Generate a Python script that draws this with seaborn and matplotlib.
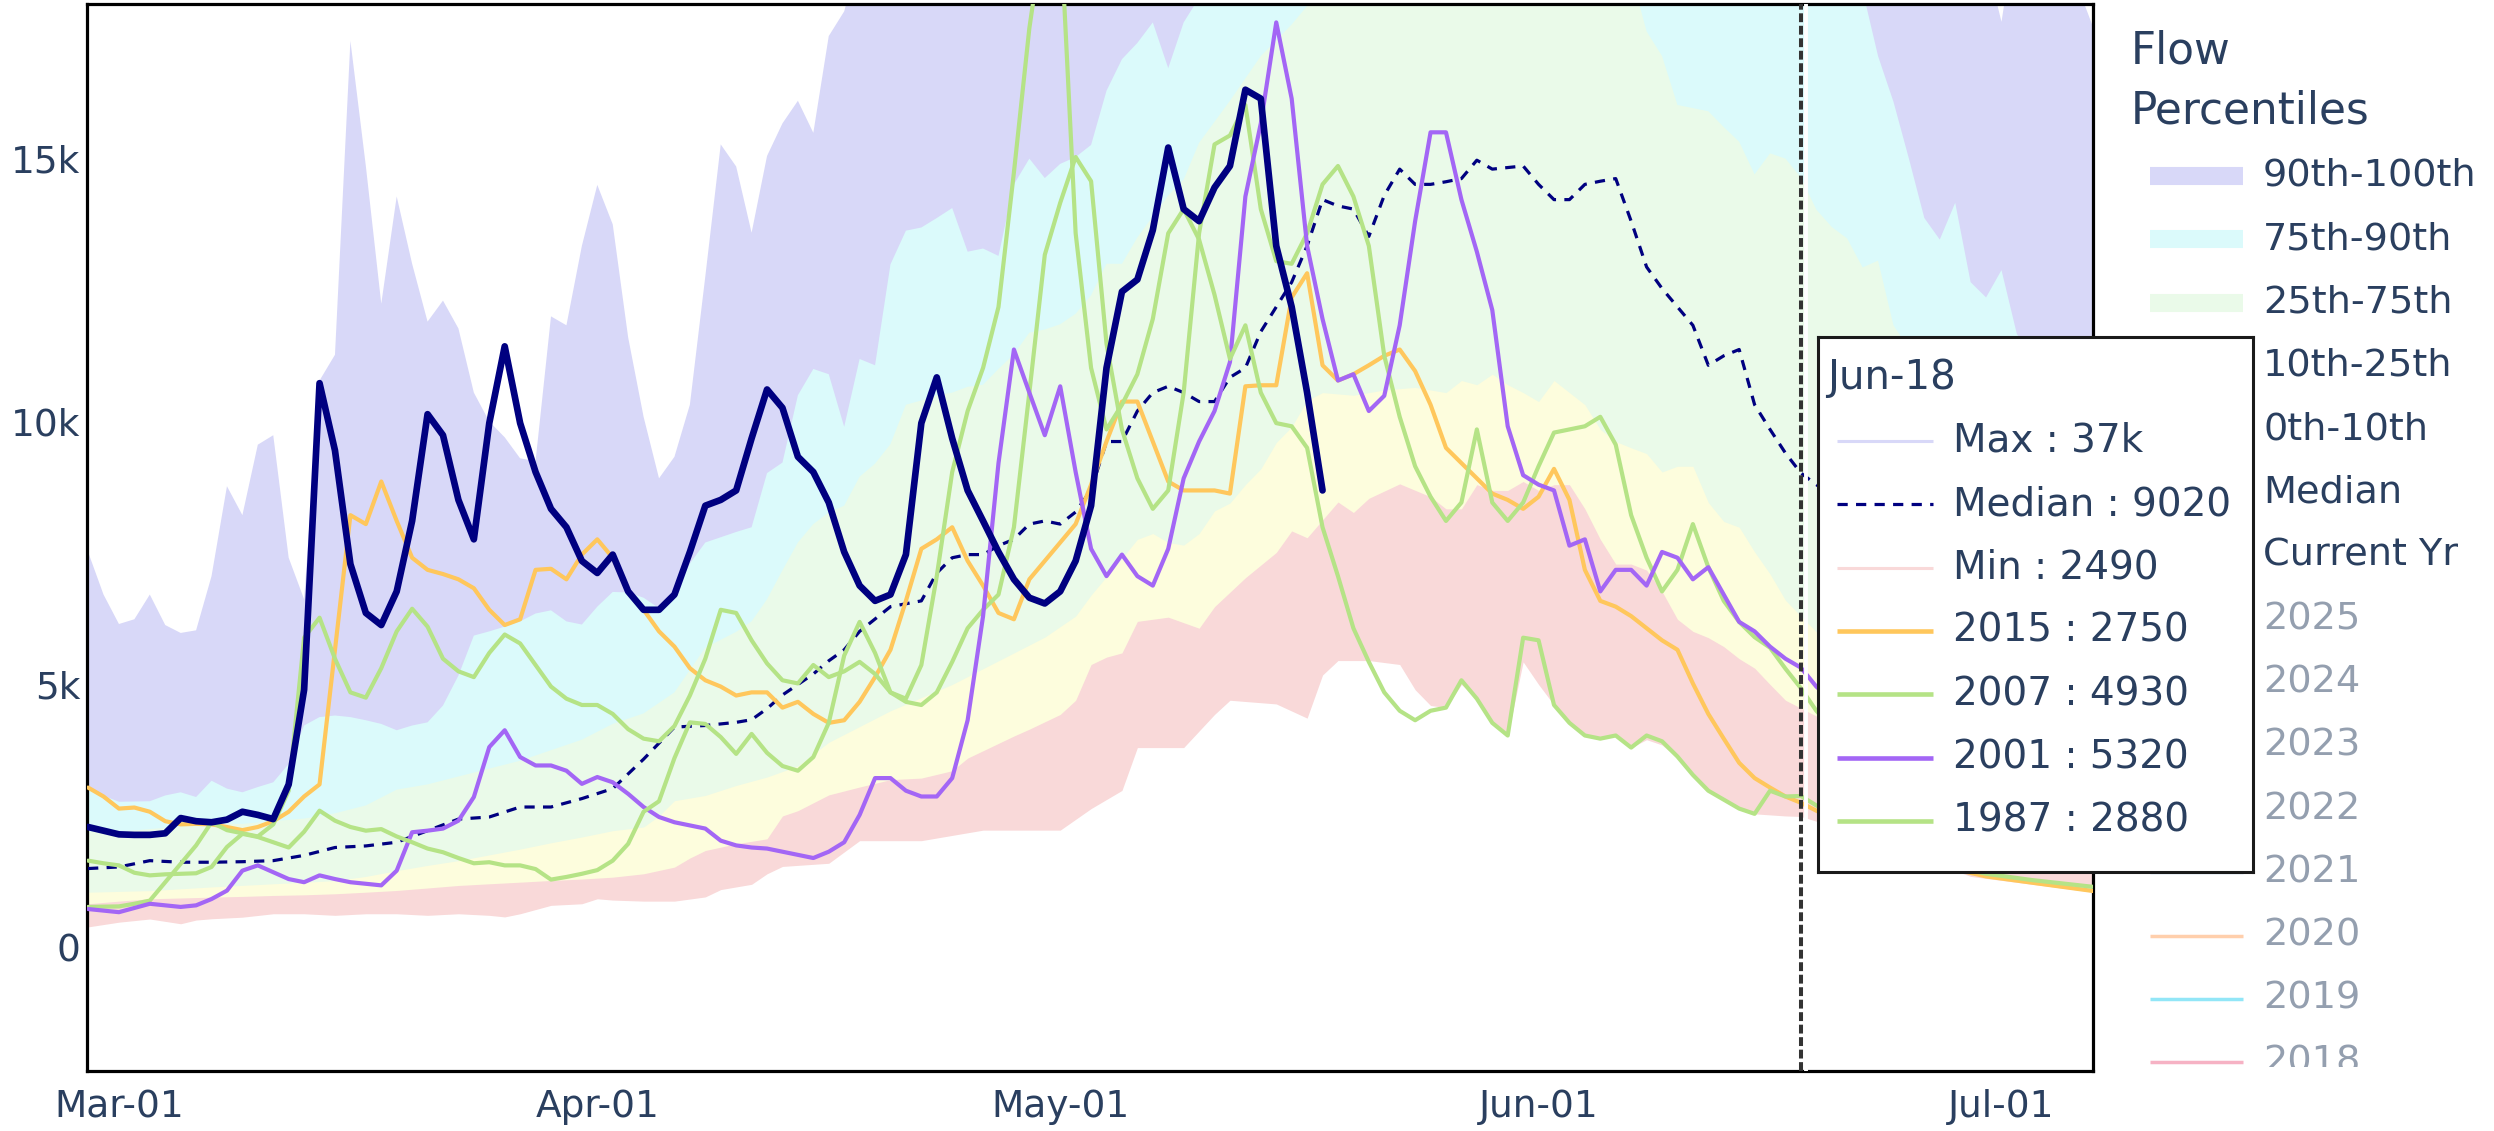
import pandas as pd
import matplotlib
matplotlib.use("Agg")
import matplotlib.pyplot as plt
import seaborn as sns

# days are counted from Mar-01 (= day 0); flows

# percentile envelope
max_days = list(range(-2, 48)) + [50, 60, 75, 90, 109, 116, 120, 122, 123, 126, 128]
max_flow = [7520, 6710, 6150, 6240, 6710, 6130, 5980, 6030, 7060, 8770,
            8220, 9560, 9740, 7410, 6620, 10780, 11270, 17240, 14860, 12240,
            14280, 13000, 11900, 12300, 11770, 10550, 10000, 9700, 9300, 9250,
            12000, 11830, 13340, 14500, 13750, 11600, 10090, 8920, 9330, 10320,
            12760, 15270, 14850, 13590, 15050, 15670, 16100, 15490, 17330, 17800,
            21000, 27000, 33000, 36000, 37000, 26000, 20000, 17600, 19500, 19000, 17450]

p90_days = [-2, 0] + list(range(2, 70)) + [72, 85, 100, 110, 113] + list(range(114, 124)) + [125, 128]
p90_flow = [3000, 2770,
            2780, 2890, 2950, 2860, 3170, 3020, 2950, 3050, 3140, 3490,
            4220, 4380, 4410, 4380, 4320, 4250, 4130, 4220, 4280, 4600,
            5170, 5930, 6010, 6100, 6200, 6350, 6410, 6200, 6140, 6480,
            6760, 6750, 6650, 6450, 6700, 7300, 7700, 7800, 7900, 7990,
            9020, 9220, 10500, 11000, 10900, 9900, 11190, 11070, 12990, 13630,
            13690, 13870, 14060, 13230, 13290, 13150, 14510, 15000, 14630, 14900,
            15030, 15260, 16290, 16890, 17200, 17590, 16720, 17590,
            19000, 23000, 22000, 19500, 18200,
            16950, 16080, 15000, 13870, 13460, 14160, 12650, 12360, 12880, 11660,
            11000, 10300]

p75_days = list(range(-2, 41, 2)) + list(range(41, 71)) + [72, 74, 76, 77, 80, 90, 98] + list(range(99, 116)) + [118, 122, 128]
p75_flow = [2200, 2200, 2250, 2300, 2350, 2350, 2400, 2450, 2550, 2700,
            3000, 3100, 3250, 3400, 3550, 3750, 3950, 4250, 4450, 4850, 5700, 6000,
            6200, 6620, 7170, 7700, 8050, 8270, 8400, 8950, 9200, 9570,
            10320, 10400, 10500, 10550, 10660, 10700, 11000, 11280, 11690, 11750,
            11850, 12050, 12400, 13000, 13000, 13500, 13900, 14300, 14600, 15300,
            16100, 16950, 17550, 17900, 19500, 20500, 18500,
            17420, 16950, 16020, 15960, 15900, 15600, 15320, 14700, 15100, 15000,
            14640, 14030, 13700, 13480, 12930, 13060, 11830,
            10500, 9000, 7500]

p25_days = ([-2, 2, 6, 10, 14] + list(range(16, 35, 2)) + [35, 36] + list(range(38, 63, 2)) + [63]
            + list(range(65, 79)) + [80, 82, 84, 86] + list(range(87, 111)) + [115, 120, 124, 128])
p25_flow = [1050, 1080, 1150, 1210, 1270,
            1350, 1460, 1560, 1650, 1760, 1870, 1990, 2100, 2220, 2290,
            2500, 2790,
            2890, 3080, 3240, 3450, 3900, 4200, 4500, 4750, 5000, 5300, 5600, 5900, 6300,
            6700,
            7400, 7760, 7870, 7700, 7650, 7870, 8300, 8450, 8800, 9100, 9600, 9900, 10400, 10550,
            10500, 10600, 10650, 10550,
            10780, 10700, 10900, 10700, 10550, 10380, 10780, 10550, 10320, 9850,
            9620, 9500, 9390, 9040, 9150, 9150, 8460, 8100, 7990, 7520,
            7100, 6600, 6300, 6000,
            4800, 3300, 2300, 1600]

p10_days = (list(range(-2, 37, 2)) + [37, 38, 40, 42, 43, 44, 46, 48, 50, 52, 54, 55, 56, 58, 59,
            61, 62, 63, 64, 65, 66, 68, 70, 71, 73, 75, 76, 77, 78, 79, 80, 81, 83, 85]
            + list(range(86, 111)) + [115, 120, 124, 128])
p10_flow = [830, 880, 925, 940, 956, 970, 988, 1000, 1020, 1050,
            1083, 1130, 1178, 1210, 1241, 1273, 1300, 1336, 1400, 1527,
            1700, 1843, 1970, 2065, 2500, 2600,
            2900, 3050, 3190, 3220, 3360, 3600, 3740, 4020, 4150,
            4430, 4700, 5380, 5520, 5600, 6200, 6280, 6070, 6480, 7030,
            7510, 7920, 7790, 8130, 8470, 8270, 8540, 8815, 8570,
            8340, 8340, 8800, 8690, 8690, 8860, 8690, 8800, 8800, 8340,
            7760, 7290, 7290, 7175, 6770, 6240, 6010, 5890, 5720, 5490,
            5310, 5000, 4700, 4550, 4400,
            3300, 2000, 1600, 1400]

min_days = ([-2, 0, 2, 4, 5, 6, 8] + list(range(10, 25, 2)) + [25, 26, 28, 30, 31, 32, 34, 36, 38, 39,
            40, 41, 42, 43, 46, 48, 52, 56, 61, 63, 65, 66, 69, 71, 72, 75, 77, 78, 79, 81, 83]
            + list(range(84, 107)) + [108, 109, 110, 115, 120, 124, 128])
min_flow = [390, 480, 540, 450, 520, 545, 575,
            640, 640, 610, 640, 640, 610, 640, 610,
            580, 640, 800, 830, 925, 900, 880, 880, 960, 1100, 1150, 1200, 1400, 1540,
            1600, 2030, 2030, 2230, 2230, 2640, 2985, 3800, 3800, 4430, 4700, 4630, 4360,
            5180, 5455, 5455, 5380,
            4900, 4600, 4560, 5000, 4730, 4270, 4030, 5430, 5000, 4610,
            4270, 4030, 3970, 4030, 3800, 3950, 3850, 3600, 3250, 2980,
            2800, 2630, 2540,
            2500, 2490, 2400, 1900, 1350, 1200, 1050]

med_days = list(range(-2, 41, 2)) + list(range(41, 49)) + [50] + list(range(52, 112))
med_flow = [1500, 1530, 1650, 1620, 1620, 1630, 1650, 1750, 1900, 1930,
            2000, 2220, 2440, 2480, 2670, 2670, 2830, 3020, 3580, 4190, 4220, 4280,
            4330, 4540, 4800, 5000, 5200, 5450, 5660, 6010, 6480,
            6590, 7120, 7410, 7470, 7470, 7640, 7760, 8050, 8110, 8050,
            8280, 8700, 9620, 9620, 10200, 10550, 10670, 10550, 10380, 10380,
            10840, 11020, 11710, 12180, 12650, 13340, 14220, 14100, 14040, 13520,
            14300, 14800, 14510, 14510, 14560, 14620, 14970, 14800, 14830, 14860,
            14510, 14220, 14220, 14510, 14570, 14620, 13810, 12940, 12530, 12180,
            11830, 11070, 11250, 11370, 10320, 9850, 9400, 9020, 8800, 8600]

# current year
cur_days = list(range(-2, 79))
cur_flow = [2290, 2220, 2150, 2140, 2140, 2170, 2460, 2400, 2380, 2430,
            2580, 2520, 2440, 3100, 4900, 10730, 9450, 7290, 6360, 6130,
            6770, 8110, 10140, 9740, 8510, 7760, 9970, 11430, 9970, 9040,
            8340, 7990, 7350, 7120, 7470, 6770, 6420, 6420, 6710, 7520,
            8400, 8510, 8690, 9680, 10610, 10260, 9330, 9040, 8460, 7520,
            6880, 6590, 6710, 7470, 9970, 10840, 9680, 8690, 8110, 7520,
            7000, 6650, 6540, 6770, 7350, 8400, 11020, 12470, 12700, 13640,
            15210, 14040, 13810, 14450, 14860, 16310, 16140, 13340, 12180, 10550, 8690]

# selected years
y2015_days = list(range(-2, 111)) + [114, 118, 121, 124, 128]
y2015_flow = [3040, 2870, 2640, 2660, 2580, 2400, 2340, 2350, 2340, 2290,
              2230, 2290, 2400, 2580, 2870, 3100, 5660, 8220, 8050, 8860,
              8110, 7410, 7180, 7100, 7000, 6830, 6420, 6130, 6240, 7180,
              7200, 7000, 7470, 7760, 7410, 6770, 6420, 6010, 5720, 5310,
              5080, 4960, 4790, 4850, 4850, 4560, 4670, 4440, 4270, 4320,
              4670, 5140, 5660, 6590, 7580, 7760, 7990, 7350, 6880, 6360,
              6240, 7000, 7350, 7700, 8050, 8800, 9620, 10380, 10380, 9620,
              8860, 8690, 8690, 8690, 8630, 10670, 10690, 10690, 12360, 12820,
              11070, 10780, 10900, 11070, 11250, 11370, 10960, 10320, 9500, 9210,
              8920, 8630, 8510, 8340, 8570, 9100, 8510, 7180, 6590, 6480,
              6300, 6070, 5840, 5660, 5020, 4440, 3970, 3510, 3220, 3040,
              2870, 2750, 2600,
              2000, 1550, 1350, 1230, 1070]

y2007_days = list(range(-2, 112))
y2007_flow = [770, 775, 780, 830, 890, 1240, 1590, 1940, 2380, 2230,
              2170, 2110, 2340, 2980, 5890, 6270, 5490, 4850, 4750, 5310,
              6010, 6440, 6100, 5490, 5250, 5140, 5600, 5950, 5780, 5370,
              4960, 4730, 4610, 4610, 4440, 4150, 3970, 3920, 4210, 4790,
              5490, 6420, 6360, 5840, 5400, 5080, 5020, 5370, 5140, 5250,
              5430, 5200, 4850, 4670, 4610, 4850, 5430, 6070, 6420, 6710,
              7990, 10550, 13170, 14160, 15030, 14570, 11480, 9850, 8920, 8340,
              8690, 10550, 13580, 15270, 15440, 16020, 14040, 13050, 13000, 13580,
              14510, 14860, 14280, 13340, 11250, 10090, 9150, 8570, 8110, 8460,
              9850, 8460, 8110, 8460, 9150, 9790, 9850, 9910, 10090, 9560,
              8220, 7410, 6770, 7180, 8050, 7230, 6590, 6190, 5900, 5700,
              5300, 4930, 4500, 4200]

y2001_days = list(range(-2, 112))
y2001_flow = [730, 700, 670, 750, 830, 800, 770, 800, 920, 1080,
              1460, 1560, 1430, 1300, 1240, 1370, 1300, 1240, 1210, 1180,
              1460, 2190, 2220, 2260, 2410, 2860, 3810, 4130, 3620, 3460,
              3460, 3360, 3110, 3240, 3140, 2920, 2670, 2480, 2380, 2320,
              2260, 2030, 1940, 1900, 1880, 1820, 1760, 1700, 1820, 2000,
              2520, 3220, 3220, 2980, 2870, 2870, 3220, 4320, 6300, 9210,
              11370, 10550, 9740, 10670, 9040, 7580, 7060, 7470, 7060, 6880,
              7580, 8920, 9620, 10200, 11130, 14280, 15670, 17590, 16140, 13340,
              11950, 10780, 10900, 10200, 10490, 11830, 13810, 15500, 15500, 14220,
              13230, 12120, 9910, 8980, 8800, 8690, 7640, 7760, 6770, 7180,
              7180, 6880, 7520, 7410, 7000, 7230, 6710, 6190, 6010, 5720,
              5490, 5320, 4960, 4700]

y1987_days = list(range(-2, 111)) + [114, 118, 121, 124, 128]
y1987_flow = [1650, 1600, 1560, 1420, 1370, 1390, 1400, 1410, 1530, 1910,
              2160, 2100, 2000, 1900, 2200, 2600, 2410, 2290, 2220, 2250,
              2110, 2000, 1880, 1810, 1700, 1600, 1620, 1560, 1560, 1490,
              1290, 1340, 1400, 1470, 1650, 1970, 2580, 2780, 3600, 4280,
              4250, 4000, 3680, 4060, 3700, 3450, 3360, 3620, 4270, 5550,
              6190, 5600, 4850, 4730, 5370, 7060, 9040, 10200, 11020, 12180,
              14740, 17480, 19500, 19500, 13580, 11020, 9850, 10320, 10900, 11950,
              13580, 14040, 13460, 12410, 11190, 11830, 10550, 9970, 9910, 9500,
              7990, 7060, 6070, 5430, 4850, 4500, 4320, 4500, 4560, 5080,
              4730, 4270, 4030, 5890, 5840, 4610, 4270, 4030, 3970, 4030,
              3800, 4030, 3920, 3630, 3280, 2980, 2810, 2640, 2540, 2980,
              2870, 2880, 2700,
              2100, 1600, 1400, 1280, 1150]

tick_days = [0, 31, 61, 92, 122]
y_ticks = [0, 5000, 10000, 15000]
y_tick_labels = ["0", "5k", "10k", "15k"]
HOVER_DAY = 109
START = pd.Timestamp("2025-03-01")

legend_labels = ["90th-100th", "75th-90th", "25th-75th", "10th-25th", "0th-10th",
                 "Median", "Current Yr", "2025", "2024", "2023", "2022", "2021",
                 "2020", "2019", "2018"]

# colours
TXT = "#2a3f5f"
GREY = "#949faf"
NAVY = "#000080"
C_MAX = "#d8d8f8"
C_P90 = "#dbfafb"
C_P75 = "#eafae9"
C_P25 = "#fdfddd"
C_P10 = "#f9d9d9"
C_2015 = "#ffc75c"
C_GREEN = "#b5e386"
C_2001 = "#a366f5"


def day_label(d):
    return (START + pd.Timedelta(days=int(d))).strftime("%b-%d")


def short(v):
    return f"{v / 1000:.0f}k" if v >= 10000 else f"{v:.0f}"


sns.set_theme(style="white")
plt.rcParams["font.family"] = ["DejaVu Sans"]

W, H = 2494, 1131
fig = plt.figure(figsize=(W / 100, H / 100), dpi=100)
ax = fig.add_axes([87 / W, 1 - 1071 / H, (2093 - 87) / W, (1071 - 4) / H])
y_lo, y_hi = -2350, 17940

# stacked percentile bands, painted from the top boundary down
for d, v, c in [(max_days, max_flow, C_MAX), (p90_days, p90_flow, C_P90),
                (p75_days, p75_flow, C_P75), (p25_days, p25_flow, C_P25),
                (p10_days, p10_flow, C_P10), (min_days, min_flow, "white")]:
    ax.fill_between(d, v, y_lo - 500, color=c, lw=0, zorder=1)


def draw_line(days, flow, color, lw, z, dashes=None):
    df = pd.DataFrame({"day": days, "flow": flow})
    sns.lineplot(data=df, x="day", y="flow", ax=ax, color=color, linewidth=lw,
                 estimator=None, sort=False, legend=False, zorder=z)
    if dashes:
        ax.lines[-1].set_dashes(dashes)


draw_line(med_days, med_flow, NAVY, 2.3, 3, dashes=[3.2, 2.6])
draw_line(y2015_days, y2015_flow, C_2015, 3.0, 4)
draw_line(y2007_days, y2007_flow, C_GREEN, 3.0, 4)
draw_line(y2001_days, y2001_flow, C_2001, 3.0, 4)
draw_line(y1987_days, y1987_flow, C_GREEN, 3.0, 4)
draw_line(cur_days, cur_flow, NAVY, 4.8, 5)

# hover spike line
ax.axvline(HOVER_DAY + 0.3, color="white", lw=2.8, zorder=6)
ax.axvline(HOVER_DAY, color="#333333", lw=2.9, linestyle=(0, (2.2, 0.9)), zorder=7)

ax.set_xlim(-2.07, 127.93)
ax.set_ylim(y_lo, y_hi)
ax.set_xticks(tick_days)
ax.set_xticklabels([day_label(d) for d in tick_days])
ax.set_yticks(y_ticks)
ax.set_yticklabels(y_tick_labels)
ax.set_xlabel("")
ax.set_ylabel("")
ax.tick_params(axis="both", length=0, labelsize=27, colors=TXT)
ax.tick_params(axis="x", pad=13)
ax.tick_params(axis="y", pad=5)
for s in ax.spines.values():
    s.set_color("black")
    s.set_linewidth(2.3)
ax.grid(False)

# legend column on the right (clipped at the plot bottom like the original)
lax = fig.add_axes([2100 / W, 1 - 1067 / H, 394 / W, 1067 / H], zorder=5)
lax.set_xlim(2100, 2494)
lax.set_ylim(1067, 0)
lax.axis("off")
lax.text(2131, 51, "Flow", fontsize=31.5, color=TXT, va="center", clip_on=True)
lax.text(2131, 111, "Percentiles", fontsize=31.5, color=TXT, va="center", clip_on=True)

legend_style = {
    "90th-100th": (C_MAX, 13, None), "75th-90th": (C_P90, 13, None),
    "25th-75th": (C_P75, 13, None), "10th-25th": (C_P25, 13, None),
    "0th-10th": (C_P10, 13, None), "Median": (NAVY, 2.3, [3.2, 2.6]),
    "Current Yr": (NAVY, 4.8, None), "2025": ("#9fb8e6", 2.5, None),
    "2024": ("#c8b0ee", 2.5, None), "2023": ("#a8e6c8", 2.5, None),
    "2022": ("#f5d29a", 2.5, None), "2021": ("#b8d4f0", 2.5, None),
    "2020": ("#ffcfac", 2.5, None), "2019": ("#92e6f7", 2.5, None),
    "2018": ("#f6b2c4", 2.5, None),
}
for i, lab in enumerate(legend_labels):
    y = 176 + 63.3 * i
    c, lw, dash = legend_style[lab]
    ln, = lax.plot([2150, 2243], [y, y], color=c, lw=lw, solid_capstyle="butt", clip_on=True)
    if dash:
        ln.set_dashes(dash)
    lax.text(2263, y, lab, fontsize=27.5, va="center", clip_on=True,
             color=GREY if lab.isdigit() else TXT)

# unified hover box for the spike day
hax = fig.add_axes([1818 / W, 1 - 872 / H, (2253 - 1818) / W, (872 - 337) / H], zorder=10)
hax.set_xlim(1818, 2253)
hax.set_ylim(872, 337)
hax.set_facecolor("white")
hax.set_xticks([])
hax.set_yticks([])
for s in hax.spines.values():
    s.set_color("#1a1a1a")
    s.set_linewidth(2.2)

hover_rows = [("Max", max_days, max_flow, C_MAX, 2.2, None),
              ("Median", med_days, med_flow, NAVY, 2.3, [3.2, 2.6]),
              ("Min", min_days, min_flow, C_P10, 2.2, None),
              ("2015", y2015_days, y2015_flow, C_2015, 3.3, None),
              ("2007", y2007_days, y2007_flow, C_GREEN, 3.3, None),
              ("2001", y2001_days, y2001_flow, C_2001, 3.3, None),
              ("1987", y1987_days, y1987_flow, C_GREEN, 3.3, None)]
hax.text(1827, 378, day_label(HOVER_DAY), fontsize=29, color=TXT, va="center")
for i, (lab, d, v, c, lw, dash) in enumerate(hover_rows):
    y = 441 + 63.3 * i
    val = dict(zip(d, v))[HOVER_DAY]
    ln, = hax.plot([1837, 1933], [y, y], color=c, lw=lw, solid_capstyle="butt")
    if dash:
        ln.set_dashes(dash)
    hax.text(1953, y, f"{lab} : {short(val)}", fontsize=28, color=TXT, va="center")

fig.savefig("out.png", dpi=100)
